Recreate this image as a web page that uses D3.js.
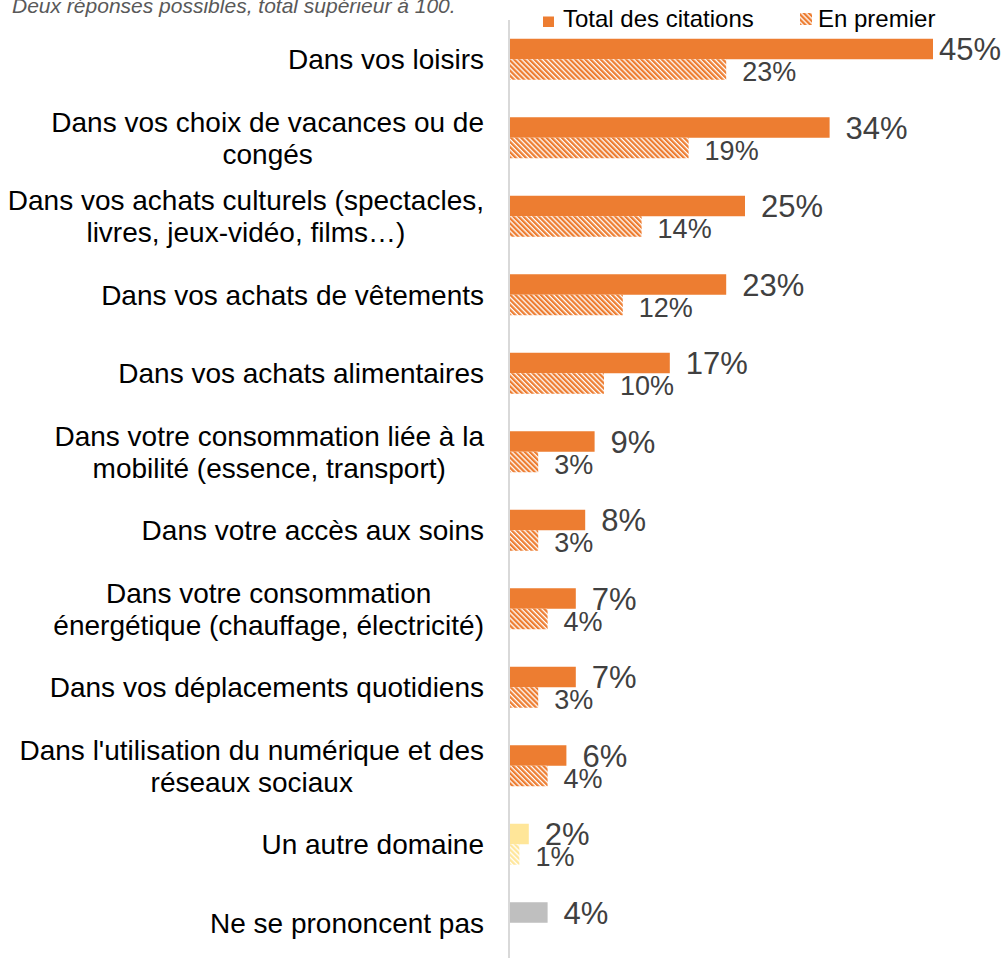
<!DOCTYPE html>
<html><head><meta charset="utf-8">
<script src="https://cdn.jsdelivr.net/npm/d3@7"></script>
<style>html,body{margin:0;padding:0;background:#fff;overflow:hidden}</style>
</head><body>
<svg id="chart" width="1003" height="958"></svg>
<script>
const categories = [
  ["Dans vos loisirs"],
  ["Dans vos choix de vacances ou de", "congés"],
  ["Dans vos achats culturels (spectacles,", "livres, jeux-vidéo, films…)"],
  ["Dans vos achats de vêtements"],
  ["Dans vos achats alimentaires"],
  ["Dans votre consommation liée à la", "mobilité (essence, transport)"],
  ["Dans votre accès aux soins"],
  ["Dans votre consommation", "énergétique (chauffage, électricité)"],
  ["Dans vos déplacements quotidiens"],
  ["Dans l'utilisation du numérique et des", "réseaux sociaux"],
  ["Un autre domaine"],
  ["Ne se prononcent pas"]
];
const totalValues = [45, 34, 25, 23, 17, 9, 8, 7, 7, 6, 2, 4];
const firstValues = [23, 19, 14, 12, 10, 3, 3, 4, 3, 4, 1, null];
const seriesNames = ["Total des citations", "En premier"];
const subtitle = "Deux réponses possibles, total supérieur à 100.";
const barColors = ["#ED7D31","#ED7D31","#ED7D31","#ED7D31","#ED7D31","#ED7D31","#ED7D31","#ED7D31","#ED7D31","#ED7D31","#FFE699","#BFBFBF"];

const svg = d3.select("#chart");
const defs = svg.append("defs");
const uniqColors = Array.from(new Set(barColors));
uniqColors.forEach((c, i) => {
  const p = defs.append("pattern")
    .attr("id", "hatch" + i)
    .attr("patternUnits", "userSpaceOnUse")
    .attr("width", 3.6).attr("height", 3.6)
    .attr("patternTransform", "rotate(-45)");
  p.append("rect").attr("width", 3.6).attr("height", 3.6).attr("fill", "#fff");
  p.append("rect").attr("width", 2.3).attr("height", 3.6).attr("fill", c);
});
const hatchFor = c => "url(#hatch" + uniqColors.indexOf(c) + ")";

const idx = categories.map((d, i) => i);
const y = d3.scaleBand().domain(idx).range([20, 962]).padding(0);
const x = d3.scaleLinear().domain([0, 50]).range([510, 980]);
const barH = 20.5;
const plotRight = 1001;

// subtitle
svg.append("text").attr("x", 12).attr("y", 13)
  .attr("font-family", "Liberation Sans, Arial, sans-serif")
  .attr("font-size", 21).attr("font-style", "italic").attr("fill", "#595959")
  .text(subtitle);

// axis line
svg.append("line").attr("x1", 509).attr("x2", 509).attr("y1", 20).attr("y2", 958)
  .attr("stroke", "#d9d9d9").attr("stroke-width", 2);

// bars
const g = svg.append("g");
idx.forEach(i => {
  const c = y(i) + y.bandwidth() / 2;
  g.append("rect").attr("x", x(0)).attr("y", c - barH).attr("width", x(totalValues[i]) - x(0)).attr("height", barH)
    .attr("fill", barColors[i]);
  if (firstValues[i] != null) {
    g.append("rect").attr("x", x(0)).attr("y", c).attr("width", x(firstValues[i]) - x(0)).attr("height", barH)
      .attr("fill", hatchFor(barColors[i]));
  }
});

// value labels
const fontFam = "Liberation Sans, Arial, sans-serif";
idx.forEach(i => {
  const c = y(i) + y.bandwidth() / 2;
  const t = svg.append("text").attr("font-family", fontFam).attr("font-size", 31).attr("fill", "#404040")
    .text(totalValues[i] + "%");
  const w = t.node().getComputedTextLength();
  t.attr("x", Math.min(x(totalValues[i]) + 16, plotRight - w)).attr("y", c - barH / 2 + 0.358 * 31);
  if (firstValues[i] != null) {
    const t2 = svg.append("text").attr("font-family", fontFam).attr("font-size", 27).attr("fill", "#404040")
      .text(firstValues[i] + "%");
    t2.attr("x", x(firstValues[i]) + 16).attr("y", c + barH / 2 + 2 + 0.358 * 27);
  }
});

// category labels
const labelRight = 484, fs = 28, lh = 32;
idx.forEach(i => {
  const lines = categories[i];
  const c = y(i) + y.bandwidth() / 2;
  const tg = svg.append("g");
  const texts = lines.map((ln, k) => tg.append("text").attr("font-family", fontFam).attr("font-size", fs)
    .attr("fill", "#000").attr("text-anchor", "middle")
    .attr("y", c + 0.358 * fs + (k - (lines.length - 1) / 2) * lh).text(ln));
  const maxW = d3.max(texts, t => t.node().getComputedTextLength());
  texts.forEach(t => t.attr("x", labelRight - maxW / 2));
});

// legend
const lg = svg.append("g").attr("font-family", fontFam).attr("font-size", 24).attr("fill", "#000");
lg.append("rect").attr("x", 543).attr("y", 16.5).attr("width", 11).attr("height", 10.5).attr("fill", "#ED7D31");
lg.append("text").attr("x", 563).attr("y", 27).text(seriesNames[0]);
lg.append("rect").attr("x", 800).attr("y", 13).attr("width", 12).attr("height", 12).attr("fill", hatchFor("#ED7D31"));
lg.append("text").attr("x", 818).attr("y", 27).text(seriesNames[1]);
</script>
</body></html>
